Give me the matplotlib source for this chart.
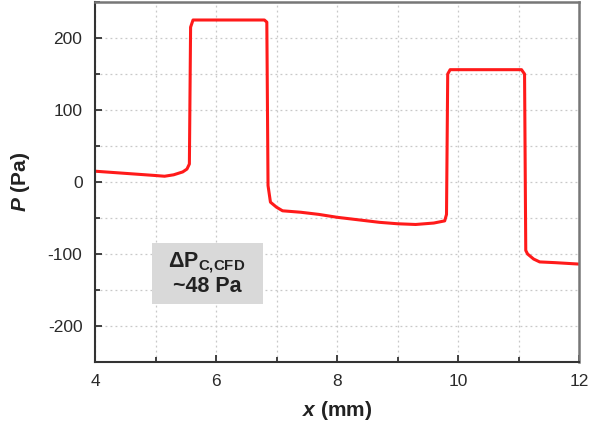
import matplotlib.pyplot as plt
from matplotlib.ticker import MultipleLocator

plt.rcParams['font.family'] = ['Liberation Sans', 'DejaVu Sans']
plt.rcParams['axes.unicode_minus'] = False
plt.rcParams['mathtext.fontset'] = 'custom'
plt.rcParams['mathtext.rm'] = 'Liberation Sans:bold'
plt.rcParams['mathtext.bf'] = 'Liberation Sans:bold'
plt.rcParams['mathtext.it'] = 'Liberation Sans:italic:bold'

# pressure profile
x_mm = [4.0, 4.5, 5.0, 5.15, 5.3, 5.45, 5.52, 5.56, 5.58, 5.62, 6.0, 6.5, 6.8, 6.84,
        6.86, 6.9, 7.0, 7.1, 7.4, 7.7, 8.0, 8.3, 8.7, 9.0, 9.3, 9.6, 9.78, 9.81,
        9.83, 9.87, 10.5, 11.05, 11.1, 11.12, 11.15, 11.25, 11.35, 11.6, 12.0]
p_pa = [15, 12, 9, 8, 10, 14, 18, 25, 215, 225, 225, 225, 225, 222,
        -5, -28, -35, -40, -42, -45, -49, -52, -56, -58, -59, -57, -54, -45,
        150, 156, 156, 156, 150, -95, -100, -107, -111, -112, -114]

box_line1 = r'$\mathbf{\Delta P_{C{,}CFD}}$'
box_line2 = '~48 Pa'

fig = plt.figure(figsize=(5.89, 4.25), dpi=100)
ax = fig.add_axes([95 / 589, 63 / 425, 484 / 589, 360 / 425])

ax.plot(x_mm, p_pa, color='#ff1a1a', linewidth=2.2, solid_joinstyle='round')

ax.set_xlim(4, 12)
ax.set_ylim(-250, 250)
ax.xaxis.set_major_locator(MultipleLocator(2))
ax.xaxis.set_minor_locator(MultipleLocator(1))
ax.yaxis.set_major_locator(MultipleLocator(100))
ax.yaxis.set_minor_locator(MultipleLocator(50))
ax.grid(True, which='both', linestyle=(0, (1.5, 2.5)), color='#c8c8c8', linewidth=0.9)
ax.set_axisbelow(True)

ax.tick_params(which='both', direction='in', colors='#333333', labelcolor='#2a2a2a',
               labelsize=12.5, top=False, right=False, width=1.3)
ax.tick_params(which='major', length=5, pad=9)
ax.tick_params(which='minor', length=3.5)

for side in ['left', 'bottom']:
    ax.spines[side].set_color('#333333')
    ax.spines[side].set_linewidth(1.5)
for side in ['right', 'top']:
    ax.spines[side].set_color('#777777')
    ax.spines[side].set_linewidth(1.8)

fig.text(337 / 589, 1 - 410 / 425, r'$\mathit{x}$ (mm)', fontsize=15, fontweight='bold',
         color='#222222', ha='center', va='center')
fig.text(20 / 589, 1 - 182 / 425, r'$\mathit{P}$ (Pa)', fontsize=15, fontweight='bold',
         color='#222222', ha='center', va='center', rotation=90)

ax.add_patch(plt.Rectangle((152 / 589, 1 - 304 / 425), 111 / 589, 61 / 425,
                           transform=fig.transFigure, facecolor='#d9d9d9', edgecolor='none',
                           zorder=3))
fig.text(207 / 589, 1 - 263 / 425, box_line1, fontsize=15.5, color='#222222', ha='center', va='center')
fig.text(207 / 589, 1 - 286 / 425, box_line2, fontsize=15.5, fontweight='bold', color='#222222',
         ha='center', va='center')

fig.savefig('out.png', dpi=100)
